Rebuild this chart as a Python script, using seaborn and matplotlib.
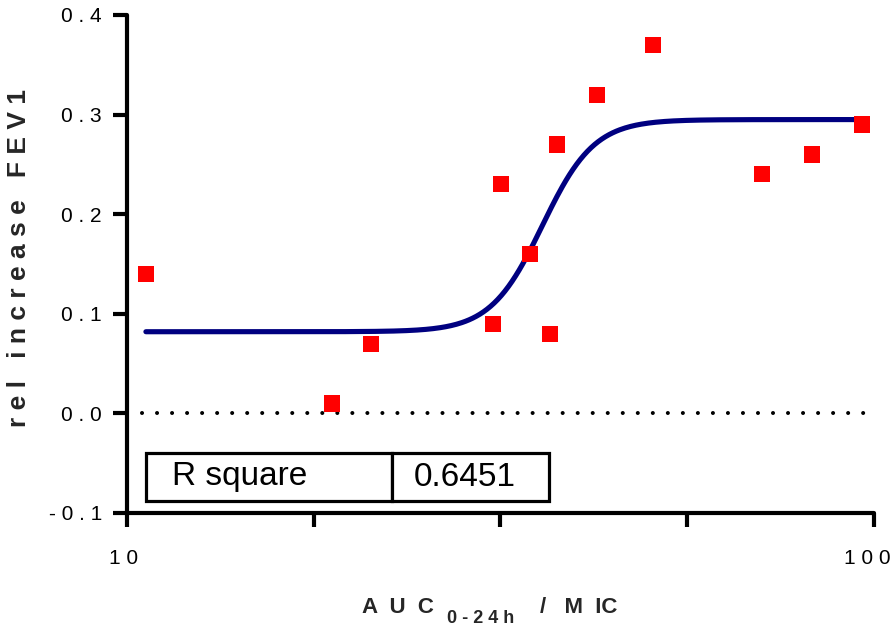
import numpy as np
import pandas as pd
import matplotlib
matplotlib.use("Agg")
import matplotlib.pyplot as plt
import matplotlib.transforms as mtransforms
import seaborn as sns

# ---- data ----
auc_mic = [10.6, 18.8, 21.2, 30.9, 31.7, 34.6, 36.8, 37.6, 42.6, 50.6, 70.8, 82.6, 96.4]
rel_increase = [0.14, 0.01, 0.07, 0.09, 0.23, 0.16, 0.08, 0.27, 0.32, 0.37, 0.24, 0.26, 0.29]

# sigmoidal fit parameters
fit_bottom = 0.082
fit_top = 0.295
fit_log_ec50 = 1.556
fit_hill = 12.5

r_square_label = "R square"
r_square_value = "0.6451"

y_ticks = [-0.1, 0.0, 0.1, 0.2, 0.3, 0.4]
y_tick_labels = ["- 0 . 1", "0 . 0", "0 . 1", "0 . 2", "0 . 3", "0 . 4"]
x_ticks = [10, 17.78, 31.62, 56.23, 100]
x_tick_labels = ["1 0", "", "", "", "1 0 0"]

sns.set_style("ticks")
plt.rcParams["font.family"] = ["Liberation Sans", "DejaVu Sans"]

W, H = 895, 627
fig = plt.figure(figsize=(W / 100, H / 100), dpi=100)
ax = fig.add_axes([127 / W, 1 - 513 / H, (874 - 127) / W, (513 - 15) / H])

df = pd.DataFrame({"x": auc_mic, "y": rel_increase})

# fitted curve
xc = np.logspace(np.log10(min(auc_mic)), np.log10(max(auc_mic)), 400)
yc = fit_bottom + (fit_top - fit_bottom) / (1 + 10 ** ((fit_log_ec50 - np.log10(xc)) * fit_hill))
curve = pd.DataFrame({"x": xc, "y": yc})
sns.lineplot(data=curve, x="x", y="y", ax=ax, color="#000080", linewidth=3.7,
             solid_capstyle="round", zorder=3)

# zero dotted line
ax.plot([10.47, 98.0], [0, 0], color="black", linewidth=2.9,
        linestyle=(0, (0.01, 3.72)), dash_capstyle="round", zorder=2)

sns.scatterplot(data=df, x="x", y="y", ax=ax, marker="s", s=135, color="#FF0000",
                edgecolor="none", linewidth=0, zorder=4, clip_on=False)

ax.set_xscale("log")
ax.set_xlim(10, 100)
ax.set_ylim(-0.1, 0.4)
ax.set_xticks(x_ticks)
ax.set_xticklabels(x_tick_labels)
ax.xaxis.set_minor_locator(matplotlib.ticker.NullLocator())
ax.set_yticks(y_ticks)
ax.set_yticklabels(y_tick_labels)
ax.set_xlabel("")
ax.set_ylabel("")

for side in ["top", "right"]:
    ax.spines[side].set_visible(False)
for side in ["left", "bottom"]:
    ax.spines[side].set_linewidth(3)
    ax.spines[side].set_color("black")
    ax.spines[side].set_capstyle("round")

ax.tick_params(axis="both", which="major", direction="out", length=10, width=3,
               color="black", labelsize=15, labelcolor="black")
ax.tick_params(axis="y", pad=8)
ax.tick_params(axis="x", pad=16)

# shift x tick labels slightly left, as in the reference
shifts = [-3, 0, 0, 0, -7]
for lab, dx in zip(ax.get_xticklabels(), shifts):
    lab.set_transform(lab.get_transform() +
                      mtransforms.ScaledTranslation(dx / 100, 0, fig.dpi_scale_trans))

# R square table
tbl = ax.table(cellText=[[r_square_label, r_square_value]],
               colWidths=[0.61, 0.39], cellLoc="left",
               bbox=[(146 - 127) / 747, (513 - 501) / 498, (549 - 146) / 747, 48 / 498])
tbl.auto_set_font_size(False)
pads = {0: 0.105, 1: 0.14}
for (r, c), cell in tbl.get_celld().items():
    cell.set_linewidth(2.3)
    cell.set_edgecolor("black")
    cell.PAD = pads[c]
    cell.get_text().set_fontsize(24)
    cell.get_text().set_color("black")

# axis titles
fig.text(19 / W, 1 - 258 / H, "r e l   i n c r e a s e   F E V 1", rotation=90,
         ha="center", va="center", fontsize=19, fontweight="bold")
base_y = 1 - 613 / H
fig.text(362 / W, base_y, "A  U  C", ha="left", va="baseline", fontsize=16, fontweight="bold")
fig.text(447 / W, 1 - 623 / H, "0 - 2 4 h", ha="left", va="baseline", fontsize=13, fontweight="bold")
fig.text(540 / W, base_y, "/   M  IC", ha="left", va="baseline", fontsize=16, fontweight="bold")

fig.savefig("out.png", dpi=100)
